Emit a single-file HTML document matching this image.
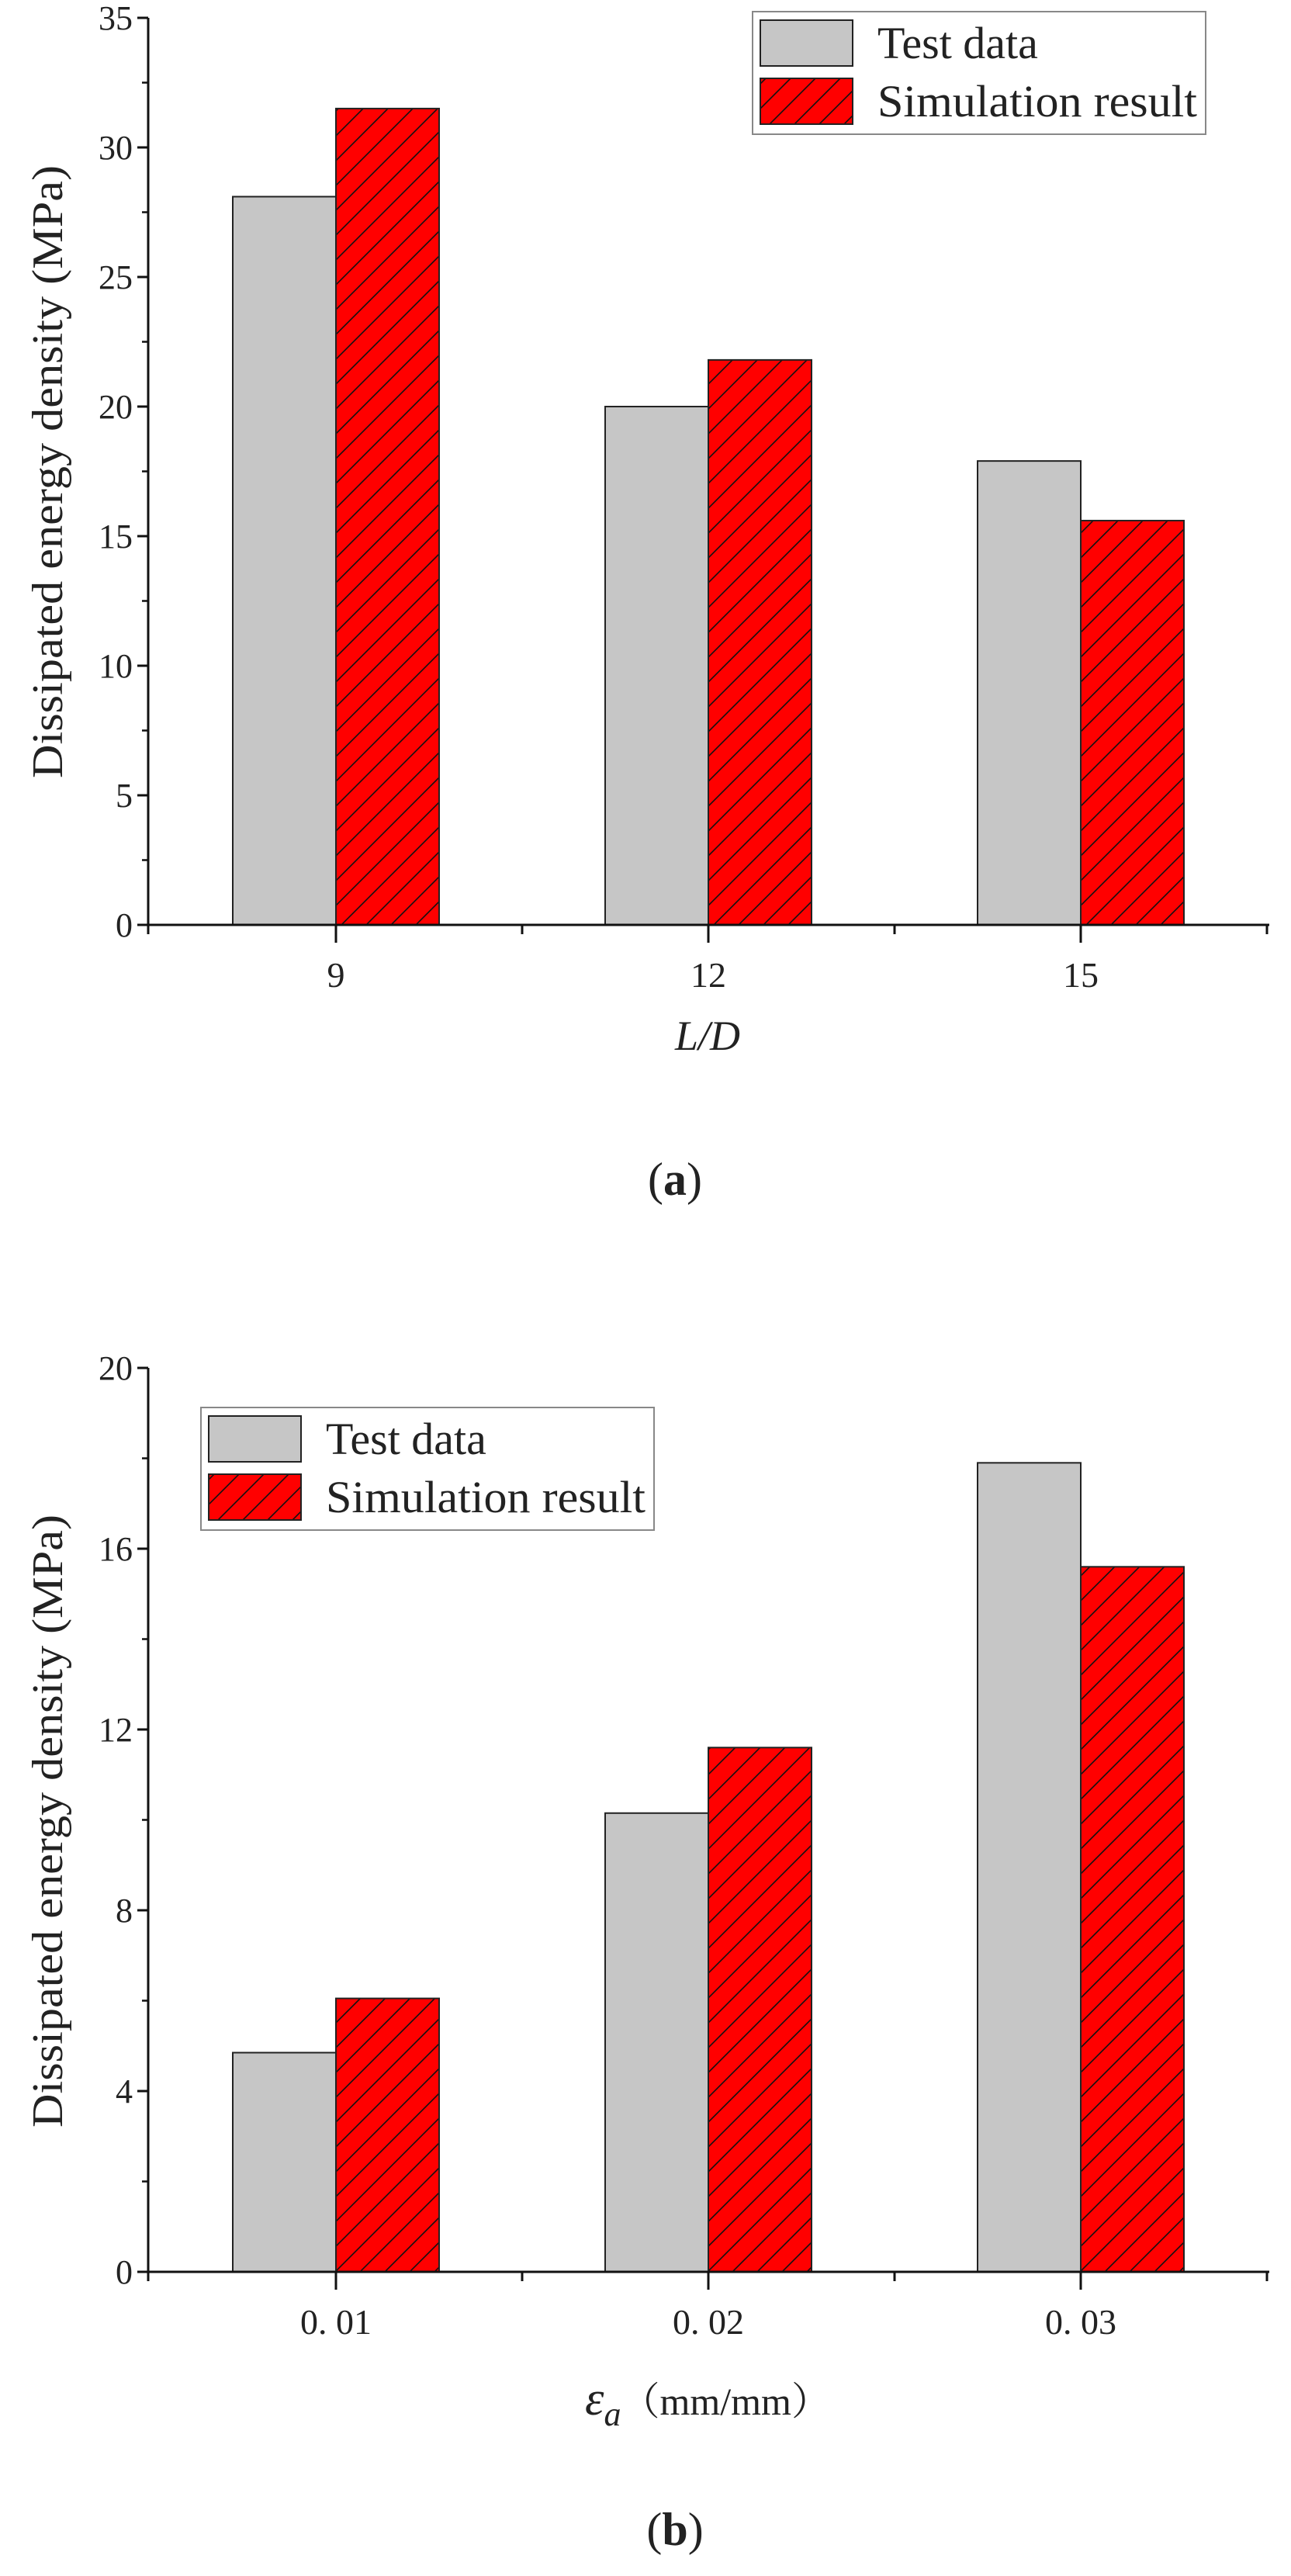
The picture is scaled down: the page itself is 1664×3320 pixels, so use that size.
<!DOCTYPE html>
<html><head><meta charset="utf-8"><style>
html,body{margin:0;padding:0;background:#fff;}
svg{display:block;}
text{font-family:"Liberation Serif","Noto Serif CJK SC",serif;fill:#222;}
</style></head><body>
<svg id="fig" xmlns="http://www.w3.org/2000/svg" width="1664" height="3320" viewBox="0 0 1664 3320">
<defs>
<pattern id="hatch" patternUnits="userSpaceOnUse" width="32" height="32">
<rect width="32" height="32" fill="#ff0000"/>
<path d="M-8,8 L8,-8 M0,32 L32,0 M24,40 L40,24" stroke="#111" stroke-width="1.6"/>
</pattern>
</defs>
</svg>
<script>
const catsA = ["9","12","15"];
const testA = [28.1, 20.0, 17.9];
const simA = [31.5, 21.8, 15.6];
const yTicksA = [0,5,10,15,20,25,30,35];
const catsB = ["0. 01","0. 02","0. 03"];
const testB = [4.85, 10.15, 17.9];
const simB = [6.05, 11.6, 15.6];
const yTicksB = [0,4,8,12,16,20];

const NS = "http://www.w3.org/2000/svg";
const svg = document.getElementById("fig");
function mk(tag, attrs, parent, txt){
  const e = document.createElementNS(NS, tag);
  for (const k in attrs) e.setAttribute(k, attrs[k]);
  if (txt !== undefined) e.textContent = txt;
  (parent||svg).appendChild(e);
  return e;
}

function chart(cfg){
  const g = mk("g", {});
  
  
  const x0 = 191, x1 = 1636, yb = cfg.yb, yt = cfg.yt;
  const ymax = cfg.yTicks[cfg.yTicks.length-1];
  const ys = v => yb - (v/ymax)*(yb-yt);
  const slot = 480, first = 433, bw = 133;
  const xc = i => first + i*slot;
  cfg.cats.forEach((c,i)=>{
    const r1 = mk("rect", {x:xc(i)-bw, y:ys(cfg.test[i]), width:bw, height:yb-ys(cfg.test[i]), fill:"#c6c6c6", stroke:"#222", "stroke-width":2}, g);
    
    
    const r2 = mk("rect", {x:xc(i), y:ys(cfg.sim[i]), width:bw, height:yb-ys(cfg.sim[i]), fill:"url(#hatch)", stroke:"#222", "stroke-width":2}, g);
    
    
    const t = mk("text", {x:xc(i), y:yb+80, "font-size":46, "text-anchor":"middle"}, g, c);
    
    
    mk("line", {x1:xc(i), y1:yb, x2:xc(i), y2:yb+23, stroke:"#111", "stroke-width":3}, g);
    mk("line", {x1:xc(i)+slot/2, y1:yb, x2:xc(i)+slot/2, y2:yb+12, stroke:"#111", "stroke-width":3}, g);
  });
  mk("line", {x1:x0, y1:yb, x2:x0, y2:yb+12, stroke:"#111", "stroke-width":3}, g);
  const ya = mk("line", {x1:x0, y1:yt, x2:x0, y2:yb+1.5, stroke:"#111", "stroke-width":3}, g);
  
  
  const xa = mk("line", {x1:x0-14, y1:yb, x2:x1, y2:yb, stroke:"#111", "stroke-width":3}, g);
  
  
  const step = cfg.yTicks[1]-cfg.yTicks[0];
  cfg.yTicks.forEach((v,i)=>{
    mk("line", {x1:x0-14, y1:ys(v), x2:x0, y2:ys(v), stroke:"#111", "stroke-width":3}, g);
    if (i < cfg.yTicks.length-1) mk("line", {x1:x0-8, y1:ys(v+step/2), x2:x0, y2:ys(v+step/2), stroke:"#111", "stroke-width":2.5}, g);
    const t = mk("text", {x:x0-20, y:ys(v)+15, "font-size":44, "text-anchor":"end"}, g, String(v));
    
    
  });
  const yt2 = mk("text", {x:0, y:0, "font-size":56, "text-anchor":"middle", textLength:790, lengthAdjust:"spacingAndGlyphs", transform:`translate(80,${cfg.ytitleY}) rotate(-90)`}, g, "Dissipated energy density (MPa)");
  
  
  const L = cfg.leg;
  const lg = mk("g", {}, g);
  
  
  mk("rect", {x:L.x, y:L.y, width:584, height:158, fill:"#fff", stroke:"#888", "stroke-width":2}, lg);
  mk("rect", {x:L.x+10, y:L.y+11, width:119, height:59, fill:"#c6c6c6", stroke:"#222", "stroke-width":2}, lg);
  mk("rect", {x:L.x+10, y:L.y+86, width:119, height:59, fill:"url(#hatch)", stroke:"#222", "stroke-width":2}, lg);
  const l1 = mk("text", {x:L.x+161, y:L.y+60, "font-size":58}, lg, "Test data");
  
  
  const l2 = mk("text", {x:L.x+161, y:L.y+135, "font-size":58, textLength:412, lengthAdjust:"spacingAndGlyphs"}, lg, "Simulation result");
  
  
  return g;
}

chart({name:"chart-a", yb:1192, yt:23, cats:catsA, test:testA, sim:simA, yTicks:yTicksA, ytitleY:608, leg:{x:970,y:15}});
chart({name:"chart-b", yb:2928, yt:1763, cats:catsB, test:testB, sim:simB, yTicks:yTicksB, ytitleY:2347, leg:{x:259,y:1814}});

let t;
t = mk("text", {x:912, y:1353, "font-size":54, "font-style":"italic", "text-anchor":"middle"}, svg, "L/D");


t = mk("text", {x:870, y:1540, "font-size":60, "text-anchor":"middle"}, svg);


mk("tspan", {}, t, "(");
mk("tspan", {"font-weight":"bold"}, t, "a");
mk("tspan", {}, t, ")");
t = mk("text", {x:912, y:3112, "font-size":50, "text-anchor":"middle"}, svg);


mk("tspan", {"font-style":"italic", "font-size":62}, t, "ε");
mk("tspan", {"font-style":"italic", "font-size":44, dy:14}, t, "a");
mk("tspan", {dy:-14}, t, "（mm/mm）");
t = mk("text", {x:870, y:3280, "font-size":60, "text-anchor":"middle"}, svg);


mk("tspan", {}, t, "(");
mk("tspan", {"font-weight":"bold"}, t, "b");
mk("tspan", {}, t, ")");
</script>
</body></html>
